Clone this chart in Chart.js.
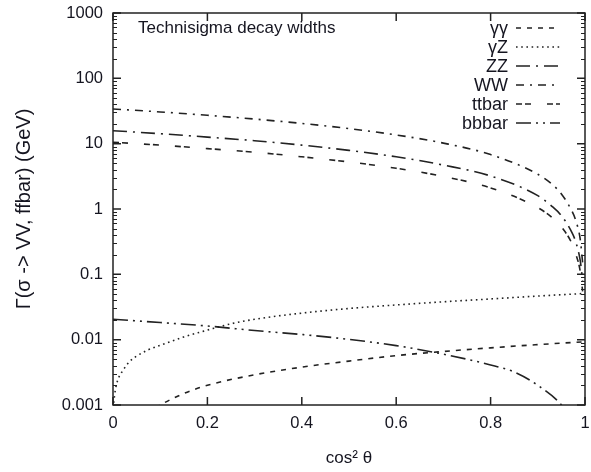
<!DOCTYPE html>
<html>
<head>
<meta charset="utf-8">
<script src="https://cdn.jsdelivr.net/npm/chart.js@4.4.0/dist/chart.umd.min.js"></script>
<style>
  html, body { margin: 0; padding: 0; background: #fff; }
  canvas { display: block; }
</style>
</head>
<body>
<canvas id="c" width="591" height="472"></canvas>
<script>
// cos^2(theta) sample points for each curve
const heavyCos = [0, 0.1, 0.2, 0.3, 0.4, 0.5, 0.6, 0.7, 0.8, 0.9, 0.93, 0.95, 0.97, 0.98, 0.99, 0.995];
const wwWidth  = [34, 30.6, 27.2, 23.8, 20.4, 17, 13.6, 10.2, 6.8, 3.4, 2.4, 1.7, 1.0, 0.68, 0.34, 0.15];
const zzWidth  = [15.8, 14.2, 12.6, 11.1, 9.5, 7.9, 6.3, 4.7, 3.2, 1.6, 1.1, 0.79, 0.47, 0.32, 0.16, 0.08];
const ttWidth  = [10.5, 9.5, 8.4, 7.4, 6.3, 5.25, 4.2, 3.15, 2.1, 1.05, 0.74, 0.53, 0.32, 0.21, 0.11, 0.055];

const aaCos    = [0.09, 0.1, 0.15, 0.2, 0.3, 0.4, 0.5, 0.6, 0.7, 0.8, 0.9, 1.0];
const aaWidth  = [0.0009, 0.001, 0.0015, 0.002, 0.0029, 0.0038, 0.0047, 0.0057, 0.0066, 0.0075, 0.0084, 0.0093];

const azCos    = [0, 0.005, 0.01, 0.02, 0.035, 0.05, 0.075, 0.1, 0.15, 0.2, 0.25, 0.3, 0.4, 0.5, 0.6, 0.7, 0.8, 0.9, 1.0];
const azWidth  = [0.0009, 0.0017, 0.0024, 0.0033, 0.0046, 0.0056, 0.0070, 0.0082, 0.011, 0.014, 0.0175, 0.0205, 0.0255, 0.030, 0.034, 0.038, 0.042, 0.0465, 0.051];

const bbCos    = [0, 0.1, 0.2, 0.3, 0.4, 0.5, 0.6, 0.7, 0.8, 0.85, 0.9, 0.95, 0.97];
const bbWidth  = [0.0205, 0.0183, 0.0162, 0.0138, 0.012, 0.0101, 0.0081, 0.006, 0.0041, 0.0032, 0.002, 0.001, 0.0006];

// axis ticks
const xTickValues = [0, 0.2, 0.4, 0.6, 0.8, 1];
const xTickLabels = ['0', '0.2', '0.4', '0.6', '0.8', '1'];
const yTickValues = [0.001, 0.01, 0.1, 1, 10, 100, 1000];
const yTickLabels = ['0.001', '0.01', '0.1', '1', '10', '100', '1000'];

const seriesNames = ['γγ', 'γZ', 'ZZ', 'WW', 'ttbar', 'bbbar'];
const titleText = 'Technisigma decay widths';

const FONT = '"Liberation Sans", Arial, sans-serif';
const INK = '#151520';
const LINE = '#222';

function pairs(xs, ys) { return xs.map((x, i) => ({ x, y: ys[i] })); }

function series(label, xs, ys, dash) {
  return {
    label, data: pairs(xs, ys), borderColor: LINE, borderWidth: 1.6,
    borderDash: dash, pointRadius: 0, fill: false,
    cubicInterpolationMode: 'monotone'
  };
}

// boxed frame with inward ticks on all four sides, gnuplot style
const framePlugin = {
  id: 'frame',
  afterDatasetsDraw(chart) {
    const { ctx, chartArea: a, scales: { x, y } } = chart;
    ctx.save();
    ctx.strokeStyle = '#222';
    ctx.lineWidth = 1.5;
    ctx.setLineDash([]);
    ctx.strokeRect(a.left, a.top, a.right - a.left, a.bottom - a.top);
    ctx.beginPath();
    x.ticks.forEach(t => {
      const px = x.getPixelForValue(t.value);
      ctx.moveTo(px, a.bottom); ctx.lineTo(px, a.bottom - 8);
      ctx.moveTo(px, a.top); ctx.lineTo(px, a.top + 8);
    });
    y.ticks.forEach(t => {
      const py = y.getPixelForValue(t.value);
      ctx.moveTo(a.left, py); ctx.lineTo(a.left + 8, py);
      ctx.moveTo(a.right, py); ctx.lineTo(a.right - 8, py);
    });
    ctx.stroke();
    ctx.lineWidth = 1;
    ctx.beginPath();
    yTickValues.slice(0, -1).forEach(v => {
      for (let m = 2; m <= 9; m++) {
        const py = Math.round(y.getPixelForValue(m * v)) + 0.5;
        ctx.moveTo(a.left, py); ctx.lineTo(a.left + 4, py);
        ctx.moveTo(a.right, py); ctx.lineTo(a.right - 4, py);
      }
    });
    ctx.stroke();
    ctx.restore();
  }
};

// in-plot title and key with line samples
const keyPlugin = {
  id: 'key',
  afterDraw(chart) {
    const { ctx, chartArea: a } = chart;
    ctx.save();
    ctx.fillStyle = INK;
    ctx.font = '17px ' + FONT;
    ctx.textAlign = 'left';
    ctx.textBaseline = 'middle';
    ctx.fillText(titleText, a.left + 25, 28);
    ctx.font = '18px ' + FONT;
    ctx.textAlign = 'right';
    chart.data.datasets.forEach((ds, i) => {
      const yy = 28 + i * 19;
      ctx.fillStyle = INK;
      ctx.fillText(ds.label, a.right - 77, yy + 1);
      ctx.strokeStyle = ds.borderColor;
      ctx.lineWidth = ds.borderWidth;
      ctx.setLineDash(ds.borderDash);
      ctx.beginPath();
      ctx.moveTo(a.right - 69, yy);
      ctx.lineTo(a.right - 25, yy);
      ctx.stroke();
    });
    ctx.restore();
  }
};

new Chart(document.getElementById('c'), {
  type: 'line',
  data: {
    datasets: [
      series(seriesNames[0], aaCos, aaWidth, [5, 6]),
      series(seriesNames[1], azCos, azWidth, [1.6, 3.6]),
      series(seriesNames[2], heavyCos, zzWidth, [14, 6, 2, 6]),
      series(seriesNames[3], heavyCos, wwWidth, [8, 6, 2, 6]),
      series(seriesNames[4], heavyCos, ttWidth, [6, 3, 6, 16]),
      series(seriesNames[5], bbCos, bbWidth, [15, 5, 2, 5, 2, 5])
    ]
  },
  options: {
    responsive: false,
    animation: false,
    events: [],
    layout: { padding: { top: 13, right: 6, left: 0, bottom: 0 } },
    plugins: { legend: { display: false }, tooltip: { enabled: false }, title: { display: false } },
    scales: {
      x: {
        type: 'linear', min: 0, max: 1,
        afterBuildTicks: s => { s.ticks = xTickValues.map(v => ({ value: v })); },
        afterFit: s => { s.height = 67; s.paddingLeft = 0; s.paddingRight = 0; },
        grid: { display: false, drawTicks: false },
        border: { display: false },
        ticks: {
          padding: 9, color: INK, font: { family: FONT, size: 16.5 },
          maxRotation: 0, autoSkip: false,
          callback: (v, i) => xTickLabels[i]
        },
        title: {
          display: true, text: 'cos² θ', color: INK,
          font: { family: FONT, size: 17 }, padding: { top: 0, bottom: 3 }
        }
      },
      y: {
        type: 'logarithmic', min: 0.001, max: 1000,
        afterBuildTicks: s => { s.ticks = yTickValues.map(v => ({ value: v })); },
        afterFit: s => { s.width = 113; s.paddingTop = 0; s.paddingBottom = 0; },
        grid: { display: false, drawTicks: false },
        border: { display: false },
        ticks: {
          padding: 10, color: INK, font: { family: FONT, size: 16.5 },
          autoSkip: false,
          callback: (v, i) => yTickLabels[i]
        },
        title: {
          display: true, text: 'Γ(σ -> VV, ffbar) (GeV)', color: INK,
          font: { family: FONT, size: 20 }, padding: { top: 12, bottom: 0 }
        }
      }
    }
  },
  plugins: [framePlugin, keyPlugin]
});
</script>
</body>
</html>
